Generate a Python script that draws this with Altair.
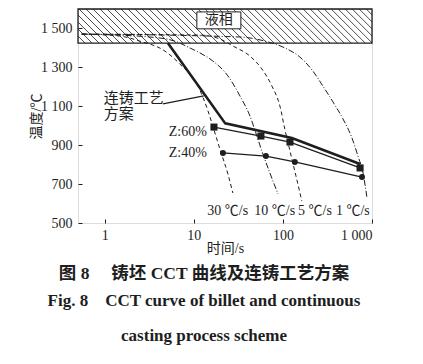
import altair as alt
import pandas as pd
import numpy as np

# ---------------- data ----------------
x_ticks = [1, 10, 100, 1000]
y_ticks = [500, 700, 900, 1100, 1300, 1500]

rate_names = ["30 ℃/s", "10 ℃/s", "5 ℃/s", "1 ℃/s"]
c30_t = [0.55, 1.47, 2.47, 4.72, 6.96, 11.1, 14.4, 16.3, 19.6, 24.1, 27.4]
c30_T = [1471, 1461, 1435, 1384, 1317, 1204, 1076, 999, 880, 752, 654]
c10_t = [0.55, 3.2, 6.1, 9.0, 11.7, 16.3, 24.1, 32.9, 42.6, 51, 58, 71.4, 88]
c10_T = [1471, 1456, 1435, 1400, 1374, 1333, 1256, 1153, 1050, 947, 870, 757, 649]
c5_t = [0.55, 11.7, 19.6, 27.4, 42.6, 58, 75.2, 92.5, 105, 120, 140, 163]
c5_T = [1471, 1466, 1446, 1410, 1358, 1292, 1204, 1101, 983, 870, 742, 613]
c1_t = [0.55, 32.9, 62.8, 105, 155, 217, 281, 365, 472, 596, 696, 793, 879]
c1_T = [1471, 1456, 1435, 1400, 1353, 1281, 1204, 1122, 1035, 937, 844, 757, 628]
rate_label_t = [24, 81, 229, 610]
rate_label_T = [562, 562, 562, 562]

process_t = [5.1, 22.5, 126, 733]
process_T = [1425, 1012, 937, 803]
z60_t = [16.8, 56.6, 120, 735]
z60_T = [993, 947, 916, 783]
z40_t = [21.2, 64.4, 136, 772]
z40_T = [860, 844, 814, 736]

liquid_T = [1425, 1600]
liquid_label = "液相"
liquid_box_t = [10.8, 33.7]
liquid_box_T = [1498, 1585]
liquid_label_pos = [19, 1543]

scheme_label = ["连铸工艺", "方案"]
scheme_label_pos = [0.97, 1142, 1060]
leader_t = [4.49, 12.9]
leader_T = [1112, 1153]

z_labels = ["Z:60%", "Z:40%"]
z_label_t = [14, 14]
z_label_T = [968, 858]

# ---------------- helpers ----------------
DOM_X = [0.5, 1000]
DOM_Y = [500, 1600]
W, H = 294, 214
INK = "#1e1e1e"
SERIF = "Liberation Serif, Noto Sans CJK SC"
xs = alt.Scale(type="log", domain=DOM_X, nice=False)
ys = alt.Scale(domain=DOM_Y, nice=False, zero=False)


def X(field="t", axis=None):
    return alt.X(f"{field}:Q", scale=xs, axis=axis)


def Y(field="T", axis=None):
    return alt.Y(f"{field}:Q", scale=ys, axis=axis)


# hatch (decoration pattern)
log_span = 34 / 89.0
starts = 10 ** np.arange(np.log10(0.5) - log_span, 3.0 + 0.01, 7 / 89.0)
hatch_df = pd.DataFrame({"t": starts, "t2": starts * 10 ** log_span,
                         "T": liquid_T[1], "T2": liquid_T[0]})
hatch = alt.Chart(hatch_df).mark_rule(color=INK, strokeWidth=0.8, clip=True).encode(
    x=X(), x2="t2:Q", y=Y(), y2="T2:Q")

liq_df = pd.DataFrame({"t": [DOM_X[0]], "t2": [DOM_X[1]], "T": [liquid_T[0]], "T2": [liquid_T[1]]})
liq_rect = alt.Chart(liq_df).mark_rect(fillOpacity=0, stroke=INK, strokeWidth=1.3).encode(
    x=X(), x2="t2:Q", y=Y(), y2="T2:Q")

box_df = pd.DataFrame({"t": [liquid_box_t[0]], "t2": [liquid_box_t[1]],
                       "T": [liquid_box_T[0]], "T2": [liquid_box_T[1]]})
box = alt.Chart(box_df).mark_rect(fill="white", stroke=INK, strokeWidth=1).encode(
    x=X(), x2="t2:Q", y=Y(), y2="T2:Q")
box_txt = alt.Chart(pd.DataFrame({"t": [liquid_label_pos[0]], "T": [liquid_label_pos[1]],
                                  "s": [liquid_label]})).mark_text(
    font=SERIF, fontSize=14, color=INK).encode(x=X(), y=Y(), text="s:N")

# cooling curves
rows = []
for name, tt, TT in zip(rate_names, [c30_t, c10_t, c5_t, c1_t], [c30_T, c10_T, c5_T, c1_T]):
    for i, (a, b) in enumerate(zip(tt, TT)):
        rows.append({"rate": name, "t": a, "T": b, "i": i})
curves_df = pd.DataFrame(rows)
dash = {"30 ℃/s": [4, 3], "10 ℃/s": [6, 2, 1, 2], "5 ℃/s": [4, 3], "1 ℃/s": [6, 2, 1, 2]}
curves = alt.layer(*[
    alt.Chart(curves_df[curves_df.rate == r]).mark_line(
        color=INK, strokeWidth=1, strokeDash=dash[r], interpolate="monotone").encode(
        x=X(), y=Y(), order="i:Q")
    for r in rate_names
])
rate_txt = alt.Chart(pd.DataFrame({"t": rate_label_t, "T": rate_label_T, "s": rate_names})).mark_text(
    font=SERIF, fontSize=14, color=INK).encode(x=X(), y=Y(), text="s:N")

# process scheme lines
proc = alt.Chart(pd.DataFrame({"t": process_t, "T": process_T})).mark_line(
    color=INK, strokeWidth=2.6).encode(
    x=X(axis=alt.Axis(orient="bottom", values=x_ticks, ticks=False, domain=False, grid=False,
                      labelFont=SERIF, labelFontSize=14, labelColor=INK, labelPadding=5,
                      labelExpr="datum.value >= 1000 ? '1 000' : format(datum.value, 'd')",
                      title="时间/s", titleFont=SERIF, titleFontSize=14, titleFontWeight="normal",
                      titleColor=INK, titlePadding=-1)),
    y=Y(axis=alt.Axis(orient="left", values=y_ticks, ticks=False, domain=False, grid=False,
                      labelFont=SERIF, labelFontSize=14, labelColor=INK, labelPadding=6,
                      labelExpr="datum.value >= 1000 ? floor(datum.value/1000) + ' ' + format(datum.value % 1000, '03d') : format(datum.value, 'd')",
                      title="温度/℃", titleFont=SERIF, titleFontSize=14, titleFontWeight="normal",
                      titleColor=INK, titlePadding=-3)))

tick_layer = alt.Chart(pd.DataFrame({"t": process_t, "T": process_T})).mark_point(opacity=0).encode(
    x=X(axis=alt.Axis(orient="top", offset=-H, values=x_ticks, labels=False, ticks=True,
                      tickSize=4, tickColor=INK, domain=False, grid=False, title=None)),
    y=Y(axis=alt.Axis(orient="right", offset=-W, values=y_ticks, labels=False, ticks=True,
                      tickSize=4, tickColor=INK, domain=False, grid=False, title=None)))

z60_df = pd.DataFrame({"t": z60_t, "T": z60_T})
z40_df = pd.DataFrame({"t": z40_t, "T": z40_T})
z60_line = alt.Chart(z60_df).mark_line(color=INK, strokeWidth=1.3).encode(x=X(), y=Y())
z60_pts = alt.Chart(z60_df).mark_point(shape="square", filled=True, size=50, color=INK, opacity=1).encode(x=X(), y=Y())
z40_line = alt.Chart(z40_df).mark_line(color=INK, strokeWidth=1.3).encode(x=X(), y=Y())
z40_pts = alt.Chart(z40_df).mark_point(shape="circle", filled=True, size=36, color=INK, opacity=1).encode(x=X(), y=Y())

z_txt = alt.Chart(pd.DataFrame({"t": z_label_t, "T": z_label_T, "s": z_labels})).mark_text(
    font=SERIF, fontSize=14, color=INK, align="right").encode(x=X(), y=Y(), text="s:N")

scheme_txt = alt.Chart(pd.DataFrame({"t": [scheme_label_pos[0]] * 2,
                                     "T": scheme_label_pos[1:], "s": scheme_label})).mark_text(
    font=SERIF, fontSize=15, color=INK, align="left").encode(x=X(), y=Y(), text="s:N")
leader = alt.Chart(pd.DataFrame({"t": leader_t, "T": leader_T})).mark_line(
    color=INK, strokeWidth=1.2).encode(x=X(), y=Y())

chart = alt.layer(
    hatch, liq_rect, box, box_txt, curves, rate_txt, proc, tick_layer,
    z60_line, z60_pts, z40_line, z40_pts, z_txt, scheme_txt, leader
).resolve_axis(x="independent", y="independent").properties(
    width=W, height=H,
    autosize=alt.AutoSizeParams(type="none"),
    padding={"left": 70, "top": 1, "right": 43, "bottom": 127},
    title=alt.Title(
        text="图 8　 铸坯 CCT 曲线及连铸工艺方案",
        subtitle=["Fig. 8　CCT curve of billet and continuous", "casting process scheme"],
        orient="bottom", anchor="middle", frame="group", dx=-21, offset=10,
        font=SERIF, fontSize=17.5, fontWeight="bold", color=INK,
        subtitleFont=SERIF, subtitleFontSize=17, subtitleFontWeight="bold", subtitleColor=INK,
        subtitleLineHeight=35, subtitlePadding=10,
    ),
).configure_view(stroke=INK, strokeWidth=1.2).configure(background="white")

chart.save("out.html", embed_options={"renderer": "svg", "actions": False})
